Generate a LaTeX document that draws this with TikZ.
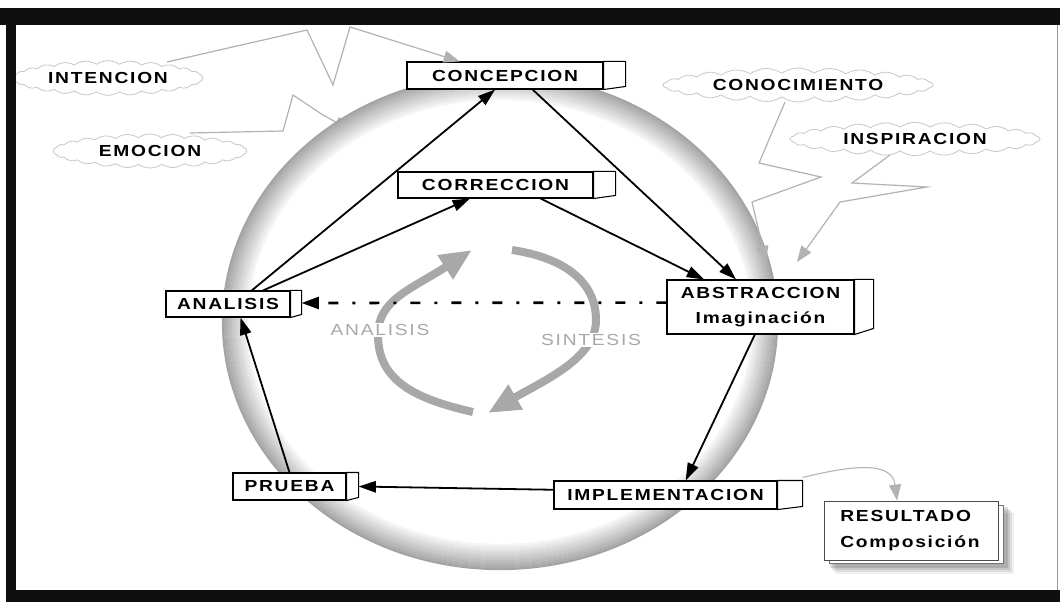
\documentclass[tikz,border=0pt]{standalone}
\usepackage{fontspec}
\setmainfont{Liberation Sans}[FakeStretch=1.2,LetterSpace=11]
\usetikzlibrary{arrows.meta,calc,shapes.symbols}
\definecolor{arcg}{gray}{0.66}
\definecolor{boltg}{gray}{0.7}
\definecolor{cloudg}{gray}{0.78}
\definecolor{framec}{gray}{0.06}
\begin{document}
\begin{tikzpicture}[x=0.75pt,y=-0.75pt,
  every node/.style={font=\fontsize{12pt}{14pt}\selectfont\bfseries},
  box/.style={draw=black, line width=0.8pt, fill=white, inner sep=0pt},
  side/.style={draw=black, line width=0.8pt, fill=white},
  arr/.style={line width=1.35pt, -{Triangle[length=13pt,width=8.5pt]}},
  dasharr/.style={line width=2pt, dash pattern=on 7.5pt off 10.5pt on 2.25pt off 10.5pt, -{Triangle[length=13pt,width=9pt]}},
  bolt/.style={draw=boltg, line width=0.9pt},
  bolttip/.style={-{Triangle[length=12pt,width=9pt,fill=boltg]}},
  cloudbox/.style={cloud, cloud puffs=26, cloud puff arc=70, cloud ignores aspect, draw=cloudg, line width=0.6pt, inner sep=0pt},
  garc/.style={draw=arcg, line width=6pt, -{Triangle[length=24pt,width=20pt]}},
  glabel/.style={text=arcg, fill=white, inner sep=1pt, font=\fontsize{12pt}{14pt}\selectfont}
]
\useasboundingbox (0,0) rectangle (1060,602);
\fill[white] (0,0) rectangle (1060,602);

% clouds (behind)
\node[cloudbox, minimum width=142pt, minimum height=26pt] (int) at (108,78) {INTENCION};
\node[cloudbox, minimum width=145pt, minimum height=25.5pt] (emo) at (150,151) {EMOCION};
\node[cloudbox, minimum width=202pt, minimum height=25.5pt] (cono) at (798,85) {CONOCIMIENTO};
\node[cloudbox, minimum width=187pt, minimum height=25pt] (insp) at (915,139) {INSPIRACION};

% EMOCION bolt (its end is covered by the ring)
\coordinate (emoS) at (190,133);
\coordinate (emoE) at (350,130);
\draw[bolt, bolttip] (emoS) -- (283,131) -- (293,95) -- (323,115) -- (emoE);

% big ring
\foreach \i in {0,...,12} {
  \pgfmathtruncatemacro{\g}{36-2.6*\i}
  \draw[black!\g, line width=1.7pt] (500,322) ellipse [x radius={277-2*\i}, y radius={247-2*\i}];
}

% inner analysis / synthesis arrows
\draw[garc] (473,412) .. controls (410,398) and (378,378) .. (378,335) .. controls (378,300) and (410,290) .. (472,250);
\draw[garc] (512,250) .. controls (565,258) and (596,282) .. (596,320) .. controls (596,358) and (545,380) .. (488,413);
\node[glabel] (lanal) at (380,330) {ANALISIS};
\node[glabel] (lsint) at (591,340) {SINTESIS};

% boxes
\node[box, minimum width=147pt, minimum height=20.25pt] (conc) at (505,75.5) {CONCEPCION};
\draw[side] (conc.north east) -- ++(22,0) -- ++(0,25) -- (conc.south east) -- cycle;
\node[box, minimum width=146.25pt, minimum height=19.5pt] (corr) at (495.5,185) {CORRECCION};
\draw[side] (corr.north east) -- ++(22,0) -- ++(0,24) -- (corr.south east) -- cycle;
\node[box, minimum width=93pt, minimum height=19.5pt] (ana) at (228,304) {ANALISIS};
\draw[side] (ana.north east) -- ++(11,0) -- ++(0,24) -- (ana.south east) -- cycle;
\node[box, minimum width=140.25pt, minimum height=40.5pt, align=center, font=\fontsize{12pt}{18.5pt}\selectfont\bfseries] (abs) at (760.5,307) {ABSTRACCION\\Imaginación};
\draw[side] (abs.north east) -- ++(19,0) -- ++(0,49) -- (abs.south east) -- cycle;
\node[box, minimum width=84.75pt, minimum height=20.25pt] (prue) at (289.5,486.5) {PRUEBA};
\draw[side] (prue.north east) -- ++(12,0) -- ++(0,25) -- (prue.south east) -- cycle;
\node[box, minimum width=167.25pt, minimum height=21pt] (impl) at (665.5,495) {IMPLEMENTACION};
\draw[side] (impl.north east) -- ++(25,0) -- ++(0,26) -- (impl.south east) -- cycle;

% resultado (stacked sheet with shadow)
\foreach \k/\o in {12/0.06,10/0.08,8/0.1,6/0.12} {
  \fill[black, opacity=\o] (824+\k,501+\k) rectangle (1002+\k,562+\k);
}
\draw[black!55, fill=white, line width=0.6pt] (829,505) rectangle (1003,563);
\node[box, draw=black!70, line width=0.6pt, minimum width=130.5pt, minimum height=44.25pt, text width=106pt, align=left, font=\fontsize{12pt}{19.5pt}\selectfont\bfseries] (res) at (911,530.5) {RESULTADO\\Composición};

% named side-panel ends
\coordinate (anaS) at ($(ana.east)+(11,-1)$);
\coordinate (prueS) at ($(prue.east)+(12,0)$);
\coordinate (implS) at ($(impl.north east)+(25,-3)$);

% black connectors
\draw[arr] ($(ana.north west)!0.69!(ana.north east)$) -- ($(conc.south west)!0.45!(conc.south east)$);
\draw[arr] ($(ana.north west)!0.78!(ana.north east)$) -- ($(corr.south west)!0.37!(corr.south east)$);
\draw[arr] ($(conc.south west)!0.64!(conc.south east)$) -- ($(abs.north west)!0.37!(abs.north east)$);
\draw[arr] ($(corr.south west)!0.73!(corr.south east)$) -- ($(abs.north west)!0.2!(abs.north east)$);
\draw[arr] ($(abs.south west)!0.47!(abs.south east)$) -- ($(impl.north west)!0.59!(impl.north east)$);
\draw[arr] ($(impl.north west)!0.32!(impl.south west)$) -- (prueS);
\draw[arr] (prue.north) -- ($(ana.south west)!0.6!(ana.south east)$);
\draw[dasharr] ($(abs.north west)!0.42!(abs.south west)$) -- (anaS);

% implementacion -> resultado
\draw[boltg, line width=0.8pt, bolttip] (implS) .. controls (850,466) and (892,460) .. ($(res.north west)!0.42!(res.north east)$);

% lightning callouts
\coordinate (intS) at (167,62);
\draw[bolt, bolttip] (intS) -- (307,30) -- (333,85) -- (350,27) -- ($(conc.north west)!0.27!(conc.north east)$);
\coordinate (cnS) at (785,102);
\coordinate (cnE) at (766,262);
\draw[bolt, bolttip] (cnS) -- (759,163) -- (821,177) -- (752,202) -- (cnE);
\coordinate (inS) at (890,155);
\coordinate (inE) at (797,262);
\draw[bolt, bolttip] (inS) -- (852,183) -- (927,187) -- (840,202) -- (inE);

% frame
\fill[framec] (0,8) rectangle (1060,25);
\fill[framec] (6,8) rectangle (16,602);
\fill[framec] (6,590) rectangle (1060,602);
\draw[black!40, line width=0.6pt] (1057,25) -- (1057,590);
\end{tikzpicture}
\end{document}
